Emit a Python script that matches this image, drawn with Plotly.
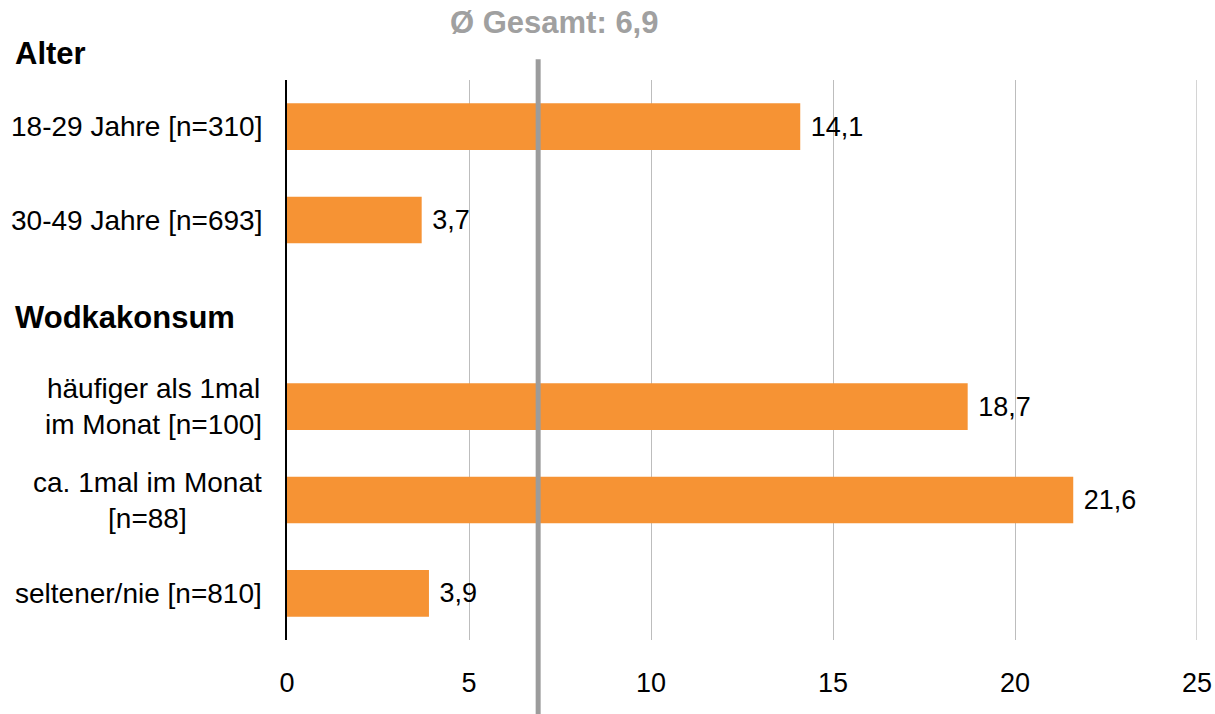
import plotly.graph_objects as go

categories = ["18-29 Jahre [n=310]", "30-49 Jahre [n=693]", " ",
              "häufiger als 1mal<br>im Monat [n=100]", "ca. 1mal im Monat<br>[n=88]",
              "seltener/nie [n=810]"]
values = [14.1, 3.7, None, 18.7, 21.6, 3.9]
value_labels = ["14,1", "3,7", "", "18,7", "21,6", "3,9"]
group_headers = ["Alter", "Wodkakonsum"]
average = 6.9
average_label = "Ø Gesamt: 6,9"
x_ticks = [0, 5, 10, 15, 20, 25]

FONT = "Liberation Sans, Arial, sans-serif"
ORANGE = "#F69334"
GRID = "#BDBDBD"

fig = go.Figure()
fig.add_trace(go.Bar(
    y=categories, x=values, orientation="h", width=0.5,
    marker=dict(color=ORANGE, line=dict(width=0)),
    text=value_labels, texttemplate=" %{text}", textposition="outside",
    textfont=dict(family=FONT, size=27, color="black"),
    cliponaxis=False, hoverinfo="skip",
))

annotations = []
for c in categories:
    if c.strip():
        annotations.append(dict(
            x=0, xref="paper", xshift=-23, y=c, yref="y",
            text=c, showarrow=False, xanchor="right", yanchor="middle",
            align="center", font=dict(family=FONT, size=28, color="black")))

annotations.append(dict(
    x=0, xref="paper", xshift=-274, y=1, yref="paper", yshift=27,
    text="<b>" + group_headers[0] + "</b>", showarrow=False,
    xanchor="left", yanchor="middle", font=dict(family=FONT, size=31, color="black")))
annotations.append(dict(
    x=0, xref="paper", xshift=-274, y=" ", yref="y", yshift=-4,
    text="<b>" + group_headers[1] + "</b>", showarrow=False,
    xanchor="left", yanchor="middle", font=dict(family=FONT, size=31, color="black")))
annotations.append(dict(
    x=average, xref="x", xshift=16, y=1, yref="paper", yshift=58,
    text="<b>" + average_label + "</b>", showarrow=False,
    xanchor="center", yanchor="middle", font=dict(family=FONT, size=31, color="#A0A0A0")))

# gridline at the last tick (plot edge)
fig.add_shape(type="line", x0=x_ticks[-1], x1=x_ticks[-1], xref="x",
              y0=0, y1=1, yref="paper", line=dict(color=GRID, width=1.3), layer="below")

fig.add_shape(type="line", x0=average, x1=average, xref="x",
              y0=-0.135, y1=1.037, yref="paper",
              line=dict(color="#9C9C9C", width=5), layer="above")

fig.update_layout(
    width=1215, height=714,
    margin=dict(l=287, r=18, t=80, b=74, autoexpand=False),
    plot_bgcolor="white", paper_bgcolor="white",
    showlegend=False,
    bargap=0.5,
    annotations=annotations,
    xaxis=dict(range=[0, 25], tickvals=x_ticks, ticktext=[str(t) for t in x_ticks],
               showgrid=True, gridcolor=GRID, gridwidth=1.3, zeroline=False,
               showline=False, ticks="", ticklabelstandoff=24, automargin=False,
               tickfont=dict(family=FONT, size=27, color="black")),
    yaxis=dict(categoryorder="array", categoryarray=categories, autorange="reversed",
               showticklabels=False, showgrid=False, zeroline=False, automargin=False,
               showline=True, linecolor="black", linewidth=1.5, ticks=""),
)

fig.write_html("out.html")
